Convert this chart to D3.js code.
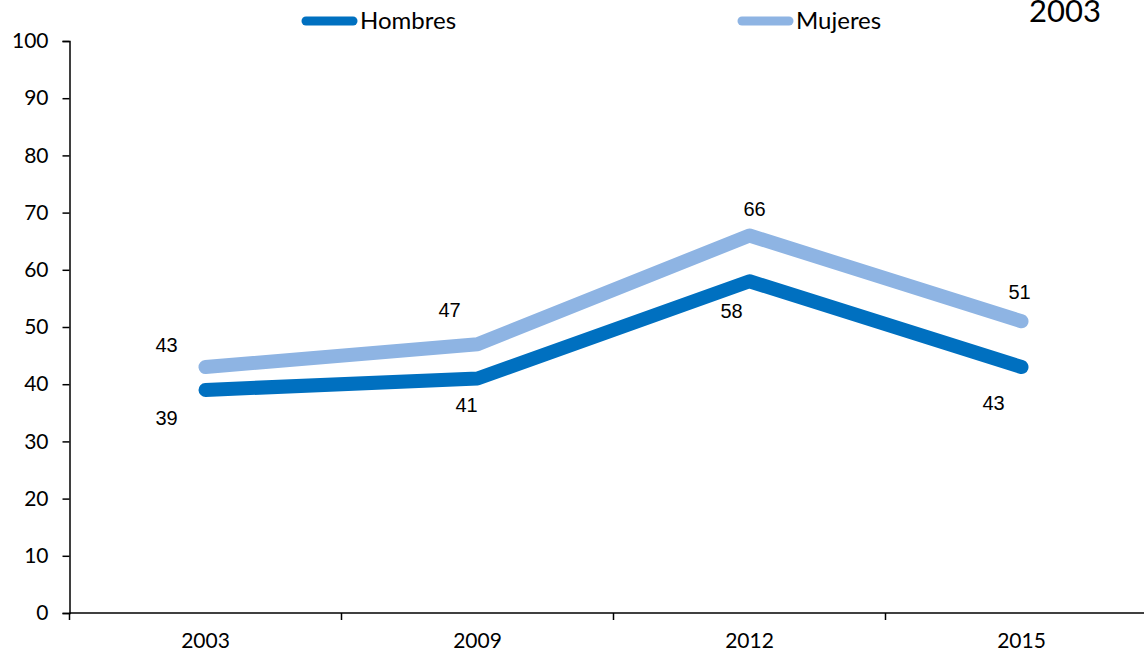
<!DOCTYPE html>
<html>
<head>
<meta charset="utf-8">
<script src="https://cdn.jsdelivr.net/npm/d3@7"></script>
<style>
  body { margin: 0; background: #fff; }
  svg { display: block; }
</style>
</head>
<body>
<div id="chart"></div>
<script>
var years = ['2003', '2009', '2012', '2015'];
var hombres = [39, 41, 58, 43];
var mujeres = [43, 47, 66, 51];
var yTicks = [0, 10, 20, 30, 40, 50, 60, 70, 80, 90, 100];

var width = 1144, height = 654;
var x0 = 69.5, y0 = 613, yTop = 41;

var svg = d3.select('#chart').append('svg')
    .attr('width', width)
    .attr('height', height);

var x = d3.scaleBand()
    .domain(years)
    .range([x0, x0 + 272 * 4])
    .padding(0);

var y = d3.scaleLinear()
    .domain([0, 100])
    .range([y0, yTop]);

var cx = function(d, i){ return x(years[i]) + x.bandwidth() / 2; };

// y axis
var yAxis = svg.append('g')
    .attr('transform', 'translate(' + x0 + ',0)')
    .call(d3.axisLeft(y).tickValues(yTicks).tickSize(7).tickPadding(14));
yAxis.selectAll('text')
    .style('font-family', 'Lato, "Open Sans", sans-serif')
    .style('font-size', '21px')
    .attr('fill', '#000');

// x axis
var xAxis = svg.append('g')
    .attr('transform', 'translate(0,' + y0 + ')')
    .call(d3.axisBottom(x).tickSize(0).tickPadding(20));
xAxis.selectAll('text')
    .style('font-family', 'Lato, "Open Sans", sans-serif')
    .style('font-size', '21px')
    .attr('fill', '#000');
xAxis.select('.domain').attr('d', 'M' + x0 + ',0H' + width);
// tick marks between categories
xAxis.selectAll('line.sep')
    .data(years)
    .enter()
    .append('line')
    .attr('class', 'sep')
    .attr('x1', function(d){ return x(d); })
    .attr('x2', function(d){ return x(d); })
    .attr('y1', 0)
    .attr('y2', 7)
    .attr('stroke', '#000');

svg.selectAll('.domain, .tick line').attr('stroke', '#000').attr('stroke-width', 1.5);
xAxis.selectAll('line.sep').attr('stroke-width', 1.5);

var line = d3.line()
    .x(function(d, i){ return cx(d, i); })
    .y(function(d){ return y(d); });

var series = [
    { name: 'Hombres', values: hombres, color: '#0070C0' },
    { name: 'Mujeres', values: mujeres, color: '#8EB4E3' }
];

series.forEach(function(s){
    svg.append('path')
        .datum(s.values)
        .attr('d', line)
        .attr('fill', 'none')
        .attr('stroke', s.color)
        .attr('stroke-width', 14)
        .attr('stroke-linecap', 'round')
        .attr('stroke-linejoin', 'round');
});

// data labels, placed the way the original has them
var hOffsets = [[-39, 35], [-11, 34], [-18, 37], [-28, 43]];
var mOffsets = [[-39, -15], [-28, -27], [5, -19], [-2, -22]];

svg.selectAll('text.lblh')
    .data(hombres)
    .enter()
    .append('text')
    .attr('class', 'lblh')
    .attr('x', function(d, i){ return cx(d, i) + hOffsets[i][0]; })
    .attr('y', function(d, i){ return y(d) + hOffsets[i][1]; })
    .attr('text-anchor', 'middle')
    .style('font-family', 'Arial, "Liberation Sans", sans-serif')
    .style('font-size', '20px')
    .text(function(d){ return d; });

svg.selectAll('text.lblm')
    .data(mujeres)
    .enter()
    .append('text')
    .attr('class', 'lblm')
    .attr('x', function(d, i){ return cx(d, i) + mOffsets[i][0]; })
    .attr('y', function(d, i){ return y(d) + mOffsets[i][1]; })
    .attr('text-anchor', 'middle')
    .style('font-family', 'Arial, "Liberation Sans", sans-serif')
    .style('font-size', '20px')
    .text(function(d){ return d; });

// legend
var legendX = [301, 737];
var legend = svg.selectAll('g.legend')
    .data(series)
    .enter()
    .append('g')
    .attr('class', 'legend')
    .attr('transform', function(d, i){ return 'translate(' + legendX[i] + ',21)'; });
legend.append('line')
    .attr('x1', 5).attr('x2', 52)
    .attr('stroke', function(d){ return d.color; })
    .attr('stroke-width', 9)
    .attr('stroke-linecap', 'round');
legend.append('text')
    .attr('x', 59)
    .attr('y', 8)
    .style('font-family', 'Lato, "Open Sans", sans-serif')
    .style('font-size', '24px')
    .text(function(d){ return d.name; });

// stray title fragment at top right
svg.append('text')
    .attr('x', 1065)
    .attr('y', 22)
    .attr('text-anchor', 'middle')
    .style('font-family', 'Lato, "Open Sans", sans-serif')
    .style('font-size', '31px')
    .text('2003');
</script>
</body>
</html>
